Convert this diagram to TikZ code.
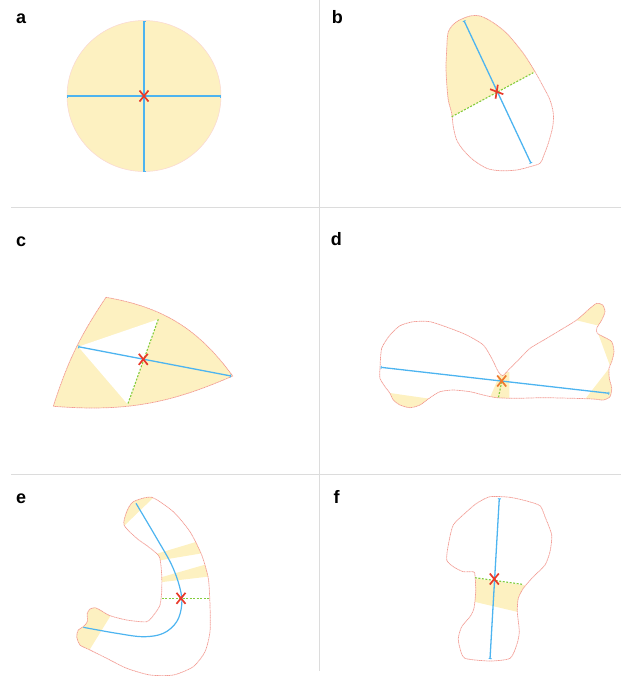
\documentclass[tikz,border=0pt]{standalone}
\usepackage{fontspec}
\setsansfont{Liberation Sans}
\usetikzlibrary{arrows.meta}

\definecolor{fillyel}{HTML}{FDF1C1}
\definecolor{axisblue}{HTML}{4DB4F0}
\definecolor{rimred}{HTML}{F29A92}
\definecolor{cutgreen}{HTML}{82CC3C}
\definecolor{markred}{HTML}{E8392A}
\definecolor{markorange}{HTML}{EE7A2E}
\definecolor{framegray}{HTML}{DCDCDC}

% outlines of the shapes, reused for fill, clip and rim
\def\shapeb{plot[smooth cycle, tension=0.5] coordinates {(448.3,31.7) (456.7,21.7) (470,16) (480,16) (491.7,21.7) (506.7,33.3) (523.3,53.3) (535,71.7) (543.3,86.7) (550,100) (553.3,113.3) (552.7,126.7) (548.3,143.3) (543.3,156.7) (540,163.3) (530,166.7) (516.7,170) (500,170.7) (486.7,168.3) (473.3,160) (463.3,150) (456.7,140) (453.3,126.7) (451.7,113.3) (448.3,100) (446.7,83.3) (446,66.7) (446.7,50)}}
\def\shapec{(cT) to[bend left=22] (cR) to[bend left=14] (cB) to[bend left=8] (cT) -- cycle}
\def\shaped{plot[smooth cycle, tension=0.4] coordinates {(380,368.3) (381.7,348.3) (390,335) (400,325.7) (413.3,321.7) (430,321.7) (450,328.3) (466.7,335) (483.3,345) (491.7,358.3) (498.3,371.7) (502.7,375.7) (510,368.3) (520,358.3) (530,348.3) (546.7,338.3) (563.3,328.3) (576.7,320) (590,308.3) (596.7,303.3) (602.7,305) (605,311.7) (601.7,320) (596.7,328.3) (597.3,333.3) (603.3,336.7) (611.7,341.7) (614,351.7) (611.7,361.7) (609,368.3) (609.3,378.3) (611.7,388.3) (610,396.7) (603.3,400) (593.3,399) (573.3,398.3) (543.3,397.7) (516.7,398.3) (496.7,397.7) (483.3,395) (470,391.7) (453.3,390) (440,391.7) (430,397.7) (420,405) (410,407.7) (400,405) (393.3,400) (390,393.3) (385,386.7) (380,378.3)}}
\def\shapee{plot[smooth cycle, tension=0.4] coordinates {(133.3,501.7) (151.7,497.3) (173.3,511.7) (190,531.7) (201.7,555) (208.3,578.3) (210,605) (210,631.7) (205,651.7) (193.3,666.7) (173.3,675) (150,675) (126.7,668.3) (106.7,658.3) (90,650) (80,645) (76.7,636.7) (78.3,630) (83.3,626.7) (87.3,621.7) (87.3,613.3) (90,609) (95,607.7) (100,610) (110,615.7) (126.7,620) (146.7,621.7) (155,613.3) (160,605) (161.7,591.7) (161.7,575) (159.3,556.7) (148.3,546.7) (136.7,538.3) (124,525) (126.7,511.7)}}
\def\shapef{plot[smooth cycle, tension=0.4] coordinates {(490,496.7) (510,497.3) (526.7,501) (540,505.7) (545,516.7) (551.7,535) (550,551.7) (545,565) (533.3,576.7) (523.3,588.3) (518.3,598.3) (517.3,611.7) (519.3,631.7) (516.7,645) (510,658.3) (490,661) (465,658.3) (460,648.3) (458.3,638.3) (461.7,626.7) (470,616.7) (474,608.3) (475.7,591.7) (475,575) (473.3,571.7) (463.3,571.7) (453.3,566.7) (446.7,560) (448.3,545) (453.3,525) (466.7,511.7) (476.7,503.3)}}

\begin{document}
\begin{tikzpicture}[x=1pt, y=-1pt,
  panel/.style={font=\sffamily\bfseries\fontsize{18}{18}\selectfont, inner sep=0pt, anchor=base west},
  rim/.style={rimred, line width=0.7pt, dash pattern=on 1.2pt off 0.5pt},
  area/.style={fill=fillyel},
  axis/.style={axisblue, line width=1.3pt, {Bar[width=3pt,line width=0.9pt]}-{Bar[width=3pt,line width=0.9pt]}},
  spine/.style={axisblue, line width=1.2pt},
  cut/.style={cutgreen, line width=1.1pt, dash pattern=on 2pt off 1.5pt},
  divider/.style={framegray, line width=0.8pt},
  centremark/.pic={\draw[line width=1.7pt, pic actions] (-4.5,-5.5) -- (4.5,5.5) (-4.5,5.5) -- (4.5,-5.5);}
]
\useasboundingbox (0,0) rectangle (621,678);

% panel frames
\draw[divider] (319,0) -- (319,671);
\draw[divider] (11,207) -- (621,207);
\draw[divider] (11,474) -- (621,474);

\node[panel] (la) at (16,23.3) {a};
\node[panel] (lb) at (331.7,23.3) {b};
\node[panel] (lc) at (16,246) {c};
\node[panel] (ld) at (330.7,245.7) {d};
\node[panel] (le) at (16,503.3) {e};
\node[panel] (lf) at (333.3,503.3) {f};

% a
\coordinate (ca) at (144,96);
\fill[area, draw=rimred!40, line width=0.5pt] (ca) ellipse[x radius=77, y radius=75.5];
\draw[axis] (67,96) -- (221,96);
\draw[axis] (144,20.5) -- (144,171.5);
\pic[draw=markred] at (ca) {centremark};

% b
\begin{scope}
  \clip \shapeb;
  \fill[area] (430,128.4) -- (451.7,116.7) -- (533.3,72.7) -- (560,58.3) -- (560,0) -- (430,0) -- cycle;
\end{scope}
\draw[rim] \shapeb;
\draw[cut] (451.7,116.7) -- (533.3,72.7);
\draw[axis] (464,20.7) -- (531,163.3);
\pic[draw=markred, rotate=30] at (496.7,91.7) {centremark};

% c
\coordinate (cT) at (106,297.3);
\coordinate (cR) at (232.7,376);
\coordinate (cB) at (53.3,406.3);
\fill[area] \shapec;
\fill[white] (78.3,346.7) -- (158.3,319.3) -- (127.7,404.3) -- cycle;
\draw[rim] \shapec;
\draw[cut] (158.3,319.3) -- (127.7,404.3);
\draw[axis] (78.3,346.7) -- (231,376);
\pic[draw=markred] at (143.3,359.3) {centremark};

% d
\begin{scope}
  \clip \shaped;
  \fill[area] (385,392.3) -- (435,399.5) -- (435,420) -- (385,420) -- cycle;
  \fill[area] (488,402) -- (501,372) -- (509.3,372) -- (509.3,402) -- cycle;
  \fill[area] (570,318.7) -- (600,326) -- (615,300) -- (580,295) -- cycle;
  \fill[area] (597,330.5) -- (611,368.5) -- (625,368) -- (625,330) -- cycle;
  \fill[area] (581,404.5) -- (612,364.6) -- (625,364) -- (625,410) -- (581,410) -- cycle;
\end{scope}
\draw[rim] \shaped;
\draw[cut] (501.7,381.7) -- (498.3,398.3);
\draw[axis] (380.7,367.3) -- (609.3,393.3);
\pic[draw=markorange] at (501.7,381) {centremark};

% e
\begin{scope}
  \clip \shapee;
  \fill[area] (120,529.8) -- (158,493.2) -- (158,485) -- (110,485) -- (110,530) -- cycle;
  \fill[area] (150,555.8) -- (215,536.2) -- (215,551.1) -- (150,562) -- cycle;
  \fill[area] (150,580.5) -- (215,561.8) -- (215,575.8) -- (150,583.5) -- cycle;
  \fill[area] (113,611.8) -- (87,654) -- (70,654) -- (70,605) -- (113,605) -- cycle;
\end{scope}
\draw[rim] \shapee;
\draw[cut] (161.7,598.3) -- (209.3,598.3);
\draw[spine] plot[smooth, tension=0.6] coordinates {(136,503.3) (156.7,538.3) (171.7,565) (180,588.3) (181.7,605) (176.7,621.7) (163.3,633.3) (143.3,636.7) (116.7,633.3) (83.3,627.3)};
\pic[draw=markred] at (181,598.3) {centremark};

% f
\begin{scope}
  \clip \shapef;
  \fill[area] (465,576.9) -- (530,586.1) -- (530,614.8) -- (465,599.6) -- cycle;
\end{scope}
\draw[rim] \shapef;
\draw[cut] (475,577.7) -- (522.3,584.3);
\draw[axis] (499.3,498.3) -- (490,659);
\pic[draw=markred] at (494.3,579) {centremark};
\end{tikzpicture}
\end{document}
